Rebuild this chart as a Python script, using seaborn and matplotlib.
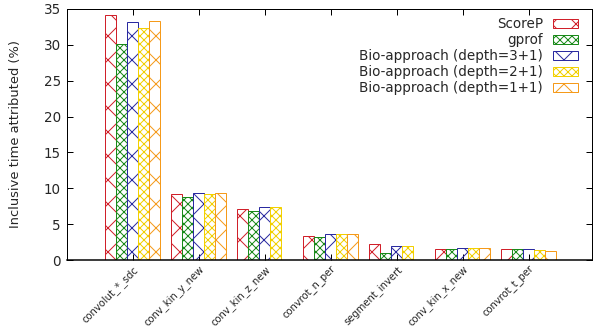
import numpy as np
import pandas as pd
import matplotlib
matplotlib.use("Agg")
import matplotlib.pyplot as plt
import seaborn as sns
from matplotlib.patches import Patch

functions = ["convolut_*_sdc", "conv_kin_y_new", "conv_kin_z_new", "convrot_n_per",
             "segment_invert", "conv_kin_x_new", "convrot_t_per"]
methods = ["ScoreP", "gprof", "Bio-approach (depth=3+1)",
           "Bio-approach (depth=2+1)", "Bio-approach (depth=1+1)"]

scorep = [34.2, 9.15, 7.1, 3.4, 2.2, 1.6, 1.5]
gprof = [30.1, 8.75, 6.9, 3.15, 0.95, 1.5, 1.5]
bio_31 = [33.2, 9.35, 7.35, 3.6, 1.9, 1.7, 1.5]
bio_21 = [32.3, 9.2, 7.35, 3.6, 1.9, 1.7, 1.35]
bio_11 = [33.3, 9.35, np.nan, 3.6, np.nan, 1.7, 1.25]

colors = ["#d0202a", "#1a8a1a", "#2a2aa0", "#f2d000", "#f59a1a"]
hatches = ["x", "xxx", "x", "xxx", "x"]

series = [scorep, gprof, bio_31, bio_21, bio_11]
df = pd.DataFrame({
    "function": np.repeat([functions], len(methods), axis=0).ravel(),
    "method": np.repeat(methods, len(functions)),
    "value": np.concatenate(series),
})

DPI = 72
sns.set_theme(style="white")
plt.rcParams["font.family"] = ["DejaVu Sans"]
plt.rcParams["hatch.linewidth"] = 1.0

fig = plt.figure(figsize=(593 / DPI, 328 / DPI), dpi=DPI)
ax = fig.add_axes([67 / 593, (328 - 260) / 328, (592 - 67) / 593, (260 - 9) / 328])

sns.barplot(data=df, x="function", y="value", hue="method", order=functions,
            hue_order=methods, width=5 / 6, gap=0, dodge=True, ax=ax,
            palette=colors, legend=False, errorbar=None, saturation=1)

# Outline-only bars with hatch patterns, one style per method
for container, col, h in zip(ax.containers, colors, hatches):
    for bar in container:
        bar.set_facecolor("none")
        bar.set_edgecolor(col)
        bar.set_hatch(h)
        bar.set_linewidth(1.0)

ax.set_xlim(-1, 6.96)
ax.set_ylim(0, 35)
ax.set_yticks(range(0, 36, 5))
ax.set_xlabel("")
ax.set_ylabel("Inclusive time attributed (%)", fontsize=13)
ax.yaxis.set_label_coords(-0.085, 0.5)

ax.set_xticks(range(len(functions)))
ax.set_xticklabels(functions, rotation=45, ha="right", va="top",
                   rotation_mode="anchor", fontsize=10)
ax.tick_params(axis="y", labelsize=13.5, direction="in", length=6, width=1,
               left=True, right=True, color="black", pad=6)
ax.tick_params(axis="x", direction="in", length=6, width=1, bottom=True,
               top=True, color="black", pad=4)

for sp in ax.spines.values():
    sp.set_color("black")
    sp.set_linewidth(1.0)
    sp.set_visible(True)
ax.spines["bottom"].set_linewidth(1.5)

handles = [Patch(facecolor="none", edgecolor=c, hatch=h, label=m, linewidth=1.0)
           for m, c, h in zip(methods, colors, hatches)]
ax.legend(handles=handles, loc="upper right", frameon=False, markerfirst=False,
          fontsize=13.5, handlelength=1.9, handleheight=0.65, labelspacing=0.15,
          handletextpad=0.7, borderaxespad=0.0, bbox_to_anchor=(0.984, 0.99))

fig.savefig("out.png", dpi=DPI)
